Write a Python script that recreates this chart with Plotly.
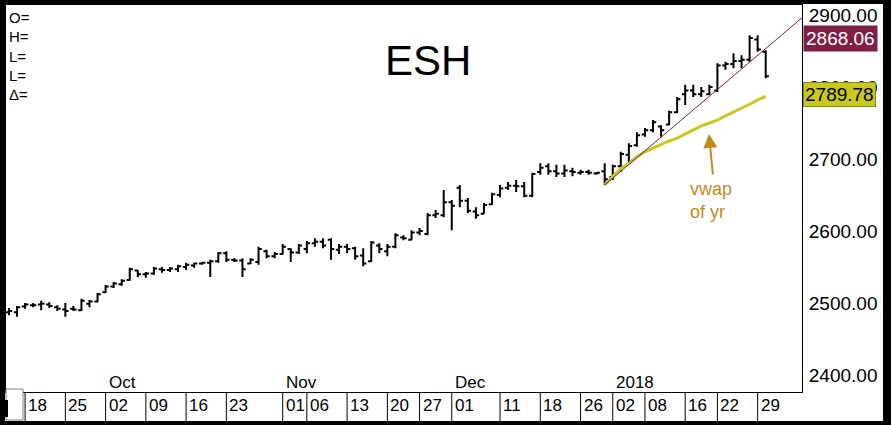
import plotly.graph_objects as go
import pandas as pd

# ---------------- data ----------------
holidays = ["2017-11-23", "2017-12-25", "2018-01-01", "2018-01-15"]
dates = [d.strftime("%Y-%m-%d") for d in pd.bdate_range("2017-09-14", "2018-01-30")
         if d.strftime("%Y-%m-%d") not in holidays]

highs = [2493, 2496, 2500, 2500, 2503, 2501, 2497, 2500, 2496, 2506,
         2504, 2514, 2525, 2529, 2533, 2549, 2546, 2543, 2550, 2550,
         2550, 2553, 2556, 2556, 2557, 2560, 2571, 2572, 2562, 2562,
         2562, 2578, 2574, 2571, 2582, 2576, 2582, 2586, 2590, 2590,
         2590, 2582, 2582, 2578, 2576, 2586, 2583, 2582, 2597, 2594,
         2601, 2604, 2625, 2629, 2657, 2643, 2664, 2646, 2633, 2639,
         2653, 2664, 2668, 2671, 2668, 2681, 2694, 2694, 2692, 2692,
         2688, 2685, 2685, 2682, 2694, 2692, 2710, 2722, 2737, 2743,
         2754, 2747, 2767, 2786, 2803, 2803, 2800, 2803, 2833, 2835,
         2847, 2844, 2872, 2872, 2851]
lows = [2483, 2481, 2492, 2494, 2490, 2493, 2489, 2481, 2489, 2489,
        2494, 2501, 2514, 2521, 2524, 2531, 2536, 2535, 2539, 2542,
        2543, 2543, 2546, 2549, 2553, 2536, 2556, 2557, 2557, 2536,
        2554, 2553, 2562, 2562, 2567, 2557, 2568, 2569, 2578, 2576,
        2560, 2568, 2569, 2560, 2551, 2557, 2569, 2565, 2576, 2587,
        2587, 2594, 2594, 2618, 2619, 2601, 2633, 2625, 2617, 2624,
        2636, 2647, 2657, 2654, 2647, 2647, 2678, 2678, 2675, 2675,
        2676, 2678, 2678, 2678, 2664, 2671, 2682, 2696, 2717, 2731,
        2737, 2731, 2747, 2764, 2775, 2786, 2786, 2789, 2793, 2824,
        2826, 2826, 2835, 2849, 2812]
opens = [2487, 2487, 2495, 2497, 2498, 2498, 2494, 2491, 2492, 2490,
         2499, 2502, 2515, 2523, 2526, 2532, 2545, 2540, 2541, 2547,
         2546, 2547, 2550, 2552, 2555, 2556, 2558, 2569, 2560, 2559,
         2555, 2557, 2572, 2565, 2568, 2575, 2570, 2575, 2583, 2585,
         2588, 2574, 2578, 2576, 2566, 2558, 2580, 2572, 2578, 2591,
         2588, 2598, 2596, 2622, 2622, 2640, 2660, 2642, 2627, 2624,
         2637, 2650, 2660, 2663, 2662, 2649, 2682, 2690, 2683, 2680,
         2683, 2681, 2682, 2680, 2683, 2675, 2690, 2706, 2719, 2734,
         2740, 2745, 2748, 2765, 2790, 2795, 2790, 2790, 2795, 2830,
         2832, 2836, 2838, 2866, 2849]
closes = [2489, 2494, 2498, 2497, 2499, 2496, 2492, 2489, 2491, 2503,
          2502, 2512, 2523, 2527, 2531, 2547, 2540, 2541, 2548, 2546,
          2548, 2551, 2553, 2555, 2556, 2558, 2569, 2560, 2559, 2547,
          2560, 2575, 2565, 2568, 2578, 2570, 2580, 2583, 2585, 2580,
          2575, 2578, 2575, 2565, 2555, 2584, 2575, 2578, 2594, 2590,
          2598, 2600, 2622, 2624, 2640, 2635, 2642, 2628, 2622, 2636,
          2651, 2659, 2663, 2662, 2649, 2679, 2688, 2683, 2680, 2684,
          2682, 2682, 2681, 2681, 2672, 2690, 2707, 2718, 2733, 2740,
          2751, 2740, 2765, 2783, 2795, 2790, 2794, 2800, 2830, 2832,
          2836, 2838, 2868, 2852, 2815]

vwap_start = "2017-12-29"
vwap = [2664, 2675, 2687, 2694, 2703, 2710, 2715, 2721, 2725, 2729,
        2735, 2740, 2746, 2750, 2754, 2760, 2765, 2771, 2776, 2782, 2787]

trend_start_date = "2017-12-29"
trend_start_value = 2664
trend_slope_per_bar = 9.47
trend_extend_bars = 25

trend_label = "2868.06"
trend_label_value = 2868.06
vwap_label = "2789.78"
vwap_label_value = 2789.78

y_ticks = [2400, 2500, 2600, 2700, 2800, 2900]
day_tick_dates = ["2017-09-18", "2017-09-25", "2017-10-02", "2017-10-09", "2017-10-16",
                  "2017-10-23", "2017-11-01", "2017-11-06", "2017-11-13", "2017-11-20",
                  "2017-11-27", "2017-12-01", "2017-12-11", "2017-12-18", "2017-12-26",
                  "2018-01-02", "2018-01-08", "2018-01-16", "2018-01-22", "2018-01-29"]
month_labels = ["Oct", "Nov", "Dec", "2018"]
month_dates = ["2017-10-02", "2017-11-01", "2017-12-01", "2018-01-02"]
info_labels = ["O=", "H=", "L=", "L=", "Δ="]

# ---------------- layout helpers ----------------
W, H = 891, 425
L, R, T, B = 6, 802, 5, 392   # plot area in pixels
def px(x):
    return (x - L) / (R - L)
def py(y):
    return (B - y) / (B - T)

idx = list(range(len(dates)))
FONT = "Liberation Sans, Arial, sans-serif"
MAROON = "#7f1f45"
YELLOW = "#c8c81e"
GOLD = "#c48a1c"

fig = go.Figure()
fig.add_trace(go.Ohlc(x=idx, open=opens, high=highs, low=lows, close=closes,
                      increasing_line_color="black", decreasing_line_color="black",
                      line_width=2, tickwidth=0.4, hoverinfo="skip"))

v0 = dates.index(vwap_start)
fig.add_trace(go.Scatter(x=[v0 + k for k in range(len(vwap))], y=vwap, mode="lines",
                         line=dict(color=YELLOW, width=3), hoverinfo="skip"))

t0 = dates.index(trend_start_date)
fig.add_trace(go.Scatter(x=[t0, t0 + trend_extend_bars],
                         y=[trend_start_value, trend_start_value + trend_slope_per_bar * trend_extend_bars],
                         mode="lines", line=dict(color=MAROON, width=1), hoverinfo="skip"))

shapes = []
annotations = []

# bottom date row separators and labels
for d in day_tick_dates:
    i = dates.index(d)
    shapes.append(dict(type="line", xref="x", yref="paper", x0=i, x1=i,
                       y0=py(B), y1=py(421), line=dict(color="black", width=1)))
    annotations.append(dict(xref="x", yref="paper", x=i, y=py(405.5), text=d[-2:],
                            showarrow=False, xanchor="left", yanchor="middle", xshift=1,
                            font=dict(family=FONT, size=17, color="black")))
for lab, d in zip(month_labels, month_dates):
    annotations.append(dict(xref="x", yref="paper", x=dates.index(d), y=py(382), text=lab,
                            showarrow=False, xanchor="left", yanchor="middle", xshift=1,
                            font=dict(family=FONT, size=17, color="black")))

# O= H= ... labels
for k, lab in enumerate(info_labels):
    annotations.append(dict(xref="paper", yref="paper", x=px(7), y=py(17 + k * 19.5), text=lab,
                            showarrow=False, xanchor="left", yanchor="middle",
                            font=dict(family=FONT, size=15, color="black")))

# title
annotations.append(dict(xref="paper", yref="paper", x=px(428), y=py(61), text="ESH",
                        showarrow=False, xanchor="center", yanchor="middle",
                        font=dict(family=FONT, size=42, color="black")))

# value labels on the right axis
annotations.append(dict(xref="paper", yref="y", x=px(803), y=trend_label_value, text=trend_label,
                        showarrow=False, xanchor="left", yanchor="middle", bgcolor=MAROON,
                        borderpad=2, font=dict(family=FONT, size=19, color="white")))
annotations.append(dict(xref="paper", yref="y", x=px(803), y=vwap_label_value, text=vwap_label,
                        showarrow=False, xanchor="left", yanchor="middle", bgcolor=YELLOW,
                        bordercolor="#8a8a10", borderwidth=1, borderpad=1,
                        font=dict(family=FONT, size=19, color="black")))

# vwap note
annotations.append(dict(xref="paper", yref="paper", x=px(688), y=py(200), text="vwap<br>of yr",
                        showarrow=False, xanchor="left", yanchor="middle", align="left",
                        font=dict(family=FONT, size=18, color=GOLD)))
annotations.append(dict(xref="paper", yref="paper", x=px(709), y=py(134), text="",
                        showarrow=True, ax=4, ay=42, arrowhead=2, arrowsize=1.4,
                        arrowwidth=2, arrowcolor=GOLD))

# frame
shapes += [
    dict(type="rect", xref="paper", yref="paper", x0=px(0), x1=px(5), y0=py(H), y1=py(0),
         fillcolor="black", line=dict(width=0)),
    dict(type="rect", xref="paper", yref="paper", x0=px(0), x1=px(W), y0=py(4), y1=py(0),
         fillcolor="black", line=dict(width=0)),
    dict(type="rect", xref="paper", yref="paper", x0=px(883), x1=px(W), y0=py(H), y1=py(0),
         fillcolor="black", line=dict(width=0)),
    dict(type="rect", xref="paper", yref="paper", x0=px(0), x1=px(W), y0=py(H), y1=py(421),
         fillcolor="black", line=dict(width=0)),
    # scroll box bottom-left
    dict(type="rect", xref="paper", yref="paper", x0=px(6), x1=px(23), y0=py(420), y1=py(389),
         fillcolor="white", line=dict(color="#808080", width=1)),
    dict(type="rect", xref="paper", yref="paper", x0=px(5), x1=px(8), y0=py(417), y1=py(400),
         fillcolor="black", line=dict(width=0)),
]

x_lo = -(9 - L) / 8.05
x_hi = x_lo + (R - L) / 8.05
y_lo = 2400 - (B - 375) / 0.72
y_hi = 2400 + (375 - T) / 0.72

fig.update_layout(
    width=W, height=H,
    margin=dict(l=L, r=W - R, t=T, b=H - B, pad=0),
    paper_bgcolor="white", plot_bgcolor="white",
    showlegend=False,
    shapes=shapes, annotations=annotations,
    xaxis=dict(range=[x_lo, x_hi], showgrid=False, zeroline=False, showticklabels=False,
               ticks="", showline=True, linecolor="black", linewidth=1, mirror=True,
               automargin=False, rangeslider=dict(visible=False), fixedrange=True),
    yaxis=dict(range=[y_lo, y_hi], side="right", showgrid=False, zeroline=False,
               tickvals=y_ticks, ticktext=[f"{v:.2f}" for v in y_ticks], ticks="",
               ticklabelstandoff=2, automargin=False,
               tickfont=dict(family=FONT, size=19, color="black"),
               showline=True, linecolor="black", linewidth=1, mirror=True, fixedrange=True),
)

fig.write_html("out.html", config={"displayModeBar": False},
               post_script="document.body.style.margin='0';document.body.style.overflow='hidden';")
